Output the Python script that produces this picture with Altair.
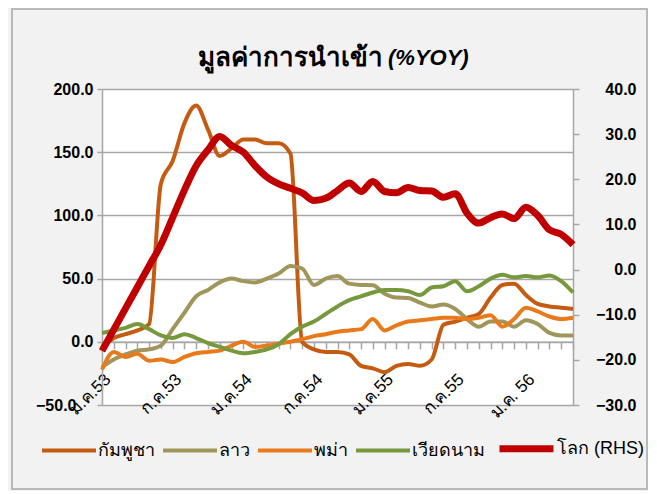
import json
import altair as alt
import pandas as pd

# ---------------- data ----------------
n_months = 41  # ม.ค.53 .. พ.ค.56
tick_labels = ["ม.ค.53", "ก.ค.53", "ม.ค.54", "ก.ค.54", "ม.ค.55", "ก.ค.55", "ม.ค. 56"]
series_names = ["กัมพูชา", "ลาว", "พม่า", "เวียดนาม", "โลก (RHS)"]
series_colors = ["#C55A11", "#A0955A", "#E97A1B", "#77993D", "#C00000"]
series_widths = [4, 4, 4, 4, 7]

cambodia = [-5, 3, 6, 9, 14, 125, 143, 173, 187, 168, 147, 153, 160, 160, 157, 157, 149, 0, -6, -8,
            -8, -10, -19, -21, -24, -19, -17.5, -19, -14, 13.5, 16, 19, 22, 35, 45, 46, 37, 30, 28, 27, 26]
laos = [-20, -14, -10, -7, -6, -3, 10, 23, 36, 41, 47, 50, 48, 47, 50, 54, 60, 58, 45, 50,
        52, 46, 45, 44.8, 38, 35, 34.7, 31, 28, 29.5, 26, 18, 12, 16, 16, 12, 17, 14, 7, 5, 5]
burma = [-22, -8, -12, -9.5, -15, -14, -16, -12, -9, -8, -7, -3, 0, -4, -3, -1.5, 0, 2, 4.5, 6,
         8, 9, 10, 18, 9, 13, 16, 17, 18, 19, 19, 18, 19, 21, 12, 18, 27, 24, 20, 18, 19]
vietnam = [7, 9, 11, 14, 10, 5, 3, 6, 3, -1, -4, -7, -9, -8, -6, -2, 6, 12, 16, 22,
           28, 33, 36, 39, 41, 41, 40, 37, 43, 44, 48, 40, 44, 50, 53, 51, 52, 51, 52.5, 48, 39]
world = [-18, -13.3, -8.6, -3.9, 0.8, 5.5, 11.5, 17.6, 23, 26.5, 29.5, 27.5, 26, 23, 20.5, 19, 18, 17, 15.3, 15.8,
         17.5, 19.2, 17.3, 19.5, 17.3, 17, 18.2, 17.5, 17.4, 16, 16.8, 12.5, 10.3, 11.5, 12.3, 11.3, 13.8, 12, 8.8, 7.8, 5.5]

rows = []
for name, vals in zip(series_names[:4], [cambodia, laos, burma, vietnam]):
    for i, v in enumerate(vals):
        rows.append({"month": i, "series": name, "value": v})
left_df = pd.DataFrame(rows)
right_df = pd.DataFrame({"month": list(range(n_months)), "series": series_names[4], "value": world})
one_row = pd.DataFrame({"k": [0]})

# ---------------- style ----------------
GRID = "#A6A6A6"
FONT = "Liberation Sans"
W, H = 471, 316

label_js = json.dumps(tick_labels, ensure_ascii=False)
x_enc = alt.X(
    "month:Q",
    scale=alt.Scale(domain=[0, n_months - 1], nice=False, zero=False),
    axis=alt.Axis(
        values=list(range(n_months)), offset=-63.2, grid=False,
        domainColor=GRID, domainWidth=1.5, tickColor=GRID, tickWidth=1.5, tickSize=7,
        labelExpr=f"datum.value % 6 == 0 ? {label_js}[datum.value / 6] : ''",
        labelAngle=315, labelAlign="right", labelBaseline="top", labelPadding=22,
        labelFont=FONT, labelFontSize=17, labelColor="black", labelOverlap=False,
        labelFlush=False, title=None,
    ),
)

legend = alt.Legend(
    orient="none", legendX=-62, legendY=329, direction="horizontal", title=None,
    symbolType="stroke", symbolSize=2916, labelFont=FONT, labelFontSize=18,
    labelColor="black", labelOffset=0, columnPadding=0,
)
color_enc = alt.Color("series:N", scale=alt.Scale(domain=series_names, range=series_colors), legend=legend)
width_enc = alt.StrokeWidth("series:N", scale=alt.Scale(type="ordinal", domain=series_names, range=series_widths), legend=legend)

left = alt.Chart(left_df).mark_line(interpolate="monotone").encode(
    x=x_enc,
    y=alt.Y("value:Q", scale=alt.Scale(domain=[-50, 200], nice=False, zero=False),
            axis=alt.Axis(values=[-50, 0, 50, 100, 150, 200], format=".1f", grid=True,
                          gridColor=GRID, gridWidth=1.5, domainColor=GRID, domainWidth=1.5,
                          tickColor=GRID, tickWidth=1.5, tickSize=5, labelFont=FONT,
                          labelFontSize=16, labelFontWeight="bold", labelColor="black",
                          labelPadding={"condition": {"test": "datum.value == -50", "value": 21}, "value": 4},
                          title=None)),
    color=color_enc,
    strokeWidth=width_enc,
)

right = alt.Chart(right_df).mark_line(interpolate="monotone").encode(
    x=x_enc,
    y=alt.Y("value:Q", scale=alt.Scale(domain=[-30, 40], nice=False, zero=False),
            axis=alt.Axis(orient="right", values=list(range(-30, 41, 10)), format=".1f", grid=False,
                          domainColor=GRID, domainWidth=1.5, tickColor=GRID, tickWidth=1.5,
                          tickSize=6, labelFont=FONT, labelFontSize=16, labelFontWeight="bold",
                          labelColor="black", labelAlign="right", labelPadding=57, title=None)),
    color=color_enc,
    strokeWidth=width_enc,
)

border = alt.Chart(one_row).mark_rect(fill="transparent", stroke=GRID, strokeWidth=1.5).encode(
    x=alt.value(-90), x2=alt.value(545), y=alt.value(-80), y2=alt.value(400)
)

title_th = alt.Chart(one_row).mark_text(
    text="มูลค่าการนำเข้า", align="right", baseline="alphabetic", font=FONT,
    fontSize=26, fontWeight="bold", color="black"
).encode(x=alt.value(281), y=alt.value(-23))

title_en = alt.Chart(one_row).mark_text(
    text="(%YOY)", align="left", baseline="alphabetic", font=FONT,
    fontSize=22, fontWeight="bold", fontStyle="italic", color="black"
).encode(x=alt.value(286), y=alt.value(-24))

chart = alt.layer(border, left, right, title_th, title_en).resolve_scale(
    y="independent"
).properties(
    width=W, height=H, background="#F2F2F2",
    padding={"left": 94, "top": 81, "right": 75, "bottom": 86},
    autosize=alt.AutoSizeParams(type="none"),
).configure_view(fill="white", strokeWidth=0)

chart.save("out.html", embed_options={"renderer": "svg", "actions": False})
